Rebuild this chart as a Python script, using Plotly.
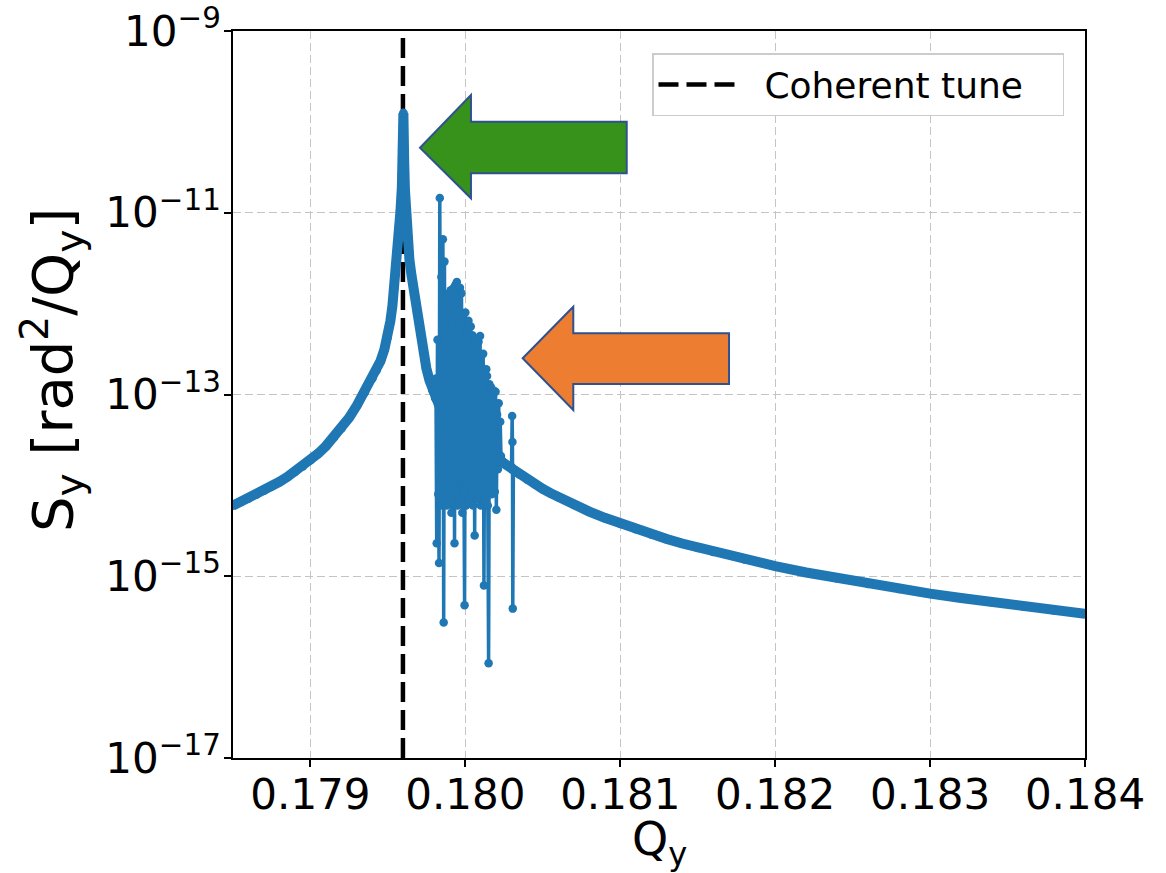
import plotly.graph_objects as go

# ---------------- data ----------------
coherent_tune = 0.179597

# smooth spectrum
q_smooth = [0.1785, 0.17855, 0.1786, 0.17865, 0.1787, 0.17875, 0.1788, 0.17885, 0.1789,
            0.17895, 0.1790, 0.17905, 0.1791, 0.17915, 0.1792, 0.17925, 0.1793, 0.17935,
            0.1794, 0.179426, 0.179452, 0.179477, 0.179497, 0.179516, 0.179529, 0.179542,
            0.179555, 0.179568, 0.179581, 0.17959, 0.179595, 0.1796,
            0.179605, 0.17961, 0.179616, 0.179626, 0.179639, 0.179652, 0.179671, 0.17969,
            0.17971, 0.179729, 0.179748, 0.179768, 0.179787, 0.179806, 0.179832, 0.179865,
            0.179897, 0.179961, 0.180026, 0.18009, 0.180155, 0.1802, 0.18025, 0.1803,
            0.18035, 0.1804, 0.18045, 0.1805, 0.18055, 0.1806, 0.1807, 0.1808, 0.1809,
            0.1810, 0.1811, 0.1812, 0.1813, 0.1814, 0.1815, 0.1816, 0.1818, 0.1820,
            0.1822, 0.1824, 0.1826, 0.1828, 0.1830, 0.1832, 0.1834, 0.1836, 0.1838, 0.1840]
s_smooth = [6.0e-15, 6.57e-15, 7.19e-15, 7.92e-15, 8.76e-15, 9.76e-15, 1.094e-14, 1.237e-14, 1.41e-14,
            1.624e-14, 1.894e-14, 2.24e-14, 2.71e-14, 3.35e-14, 4.25e-14, 5.56e-14, 7.6e-14, 1.06e-13,
            1.52e-13, 1.85e-13, 2.33e-13, 3.13e-13, 4.24e-13, 6.44e-13, 9.42e-13, 1.52e-12,
            2.80e-12, 5.41e-12, 1.04e-11, 1.92e-11, 3.52e-11, 1.25e-10,
            3.80e-11, 1.78e-11, 9.44e-12, 5.01e-12, 3.02e-12, 2.06e-12, 1.24e-12, 7.67e-13,
            4.74e-13, 2.93e-13, 1.95e-13, 1.44e-13, 1.12e-13, 9.14e-14, 7.46e-14, 6.10e-14,
            5.17e-14, 3.91e-14, 3.11e-14, 2.61e-14, 2.24e-14, 2.05e-14, 1.75e-14, 1.51e-14,
            1.32e-14, 1.157e-14, 1.025e-14, 9.15e-15, 8.21e-15, 7.42e-15, 6.13e-15, 5.15e-15, 4.39e-15,
            3.79e-15, 3.30e-15, 2.90e-15, 2.57e-15, 2.29e-15, 2.06e-15, 1.86e-15, 1.54e-15, 1.29e-15,
            1.10e-15, 9.49e-16, 8.27e-16, 7.27e-16, 6.44e-16, 5.75e-16, 5.16e-16, 4.66e-16, 4.22e-16,
            3.85e-16]

# noisy incoherent part
q_noise_start = 0.17981
q_noise_step = 0.000005
s_noise = [1.5e-13, 2.3e-15, 4e-13, 8e-15, 1.4e-15, 1.45e-11, 6e-15, 1.96e-12, 1.2e-14, 5.1e-12,
           3.1e-16, 2.9e-12, 9e-15, 1.24e-12, 6e-15, 9e-13, 1.1e-14, 1.3e-12, 7e-15, 1.4e-12,
           5e-15, 6e-13, 1e-14, 1.5e-12, 2.3e-15, 1.6e-12, 8e-15, 1.73e-12, 6e-15, 1.0e-12,
           1.2e-14, 1.5e-12, 7e-15, 1.3e-12, 5e-15, 7e-13, 9e-15, 4.8e-16, 8e-13, 6e-15,
           5e-13, 1.1e-14, 6.5e-13, 7e-15, 3e-13, 5.6e-13, 8e-15, 4.5e-13, 6e-15, 3.5e-13,
           2.8e-15, 4e-13, 1e-14, 2.5e-13, 7e-15, 3.8e-13, 9e-15, 4.4e-13, 6e-15, 2e-13,
           1.2e-14, 2.8e-13, 7.9e-16, 1.5e-13, 8e-15, 1.9e-13, 1.6e-13, 6e-15, 1.1e-16, 1.3e-13,
           1e-14, 1.2e-13, 8e-15, 9e-14, 1.2e-14, 1.1e-13, 8.5e-15, 1.07e-13, 5.4e-15, 6e-14,
           1.5e-14, 8e-14, 2e-14, 5e-14, 2.1e-14]
q_noise = [round(q_noise_start + i * q_noise_step, 7) for i in range(len(s_noise))]

# isolated spike
q_spike = [0.180298, 0.180302, 0.180304, 0.180306, 0.18031]
s_spike = [1.6e-14, 5.8e-14, 3.0e-14, 4.4e-16, 1.5e-14]

x_range = [0.1785, 0.184]
y_range_exp = [-17.0005, -8.9995]
y_tick_exp = [-17, -15, -13, -11, -9]
x_ticks = [0.179, 0.180, 0.181, 0.182, 0.183, 0.184]

# ---------------- figure ----------------
BLUE = "#1f77b4"
FONT = "DejaVu Sans"
FIG_W, FIG_H = 1166, 873
# plot area in pixels
L, R, T, B = 233, 1085, 31, 758

fig = go.Figure()

fig.add_trace(go.Scatter(
    x=[coherent_tune, coherent_tune], y=[1e-17, 1e-9],
    mode="lines", name="\u00a0\u00a0Coherent tune\u00a0\u00a0\u00a0",
    line=dict(color="black", width=4.5, dash="20px,8px"),
    showlegend=True, cliponaxis=False))

fig.add_trace(go.Scatter(
    x=q_smooth, y=s_smooth, mode="lines+markers",
    line=dict(color=BLUE, width=10), marker=dict(color=BLUE, size=9),
    showlegend=False))

fig.add_trace(go.Scatter(
    x=q_noise + q_spike, y=s_noise + s_spike, mode="lines+markers",
    line=dict(color=BLUE, width=3.5), marker=dict(color=BLUE, size=8.5),
    showlegend=False))


# arrows (paper coordinates)
def poly(pts):
    return "M " + " L ".join(f"{x:.4f},{y:.4f}" for x, y in pts) + " Z"


def px(xp, yp):
    return ((xp - L) / (R - L), (B - yp) / (B - T))


green_pts = [px(420, 147.7), px(471, 95), px(471, 121.7), px(626.7, 121.7),
             px(626.7, 173.3), px(471, 173.3), px(471, 198.3)]
orange_pts = [px(522.7, 358.3), px(573.3, 306.7), px(573.3, 333.3), px(729, 333.3),
              px(729, 384), px(573.3, 384), px(573.3, 410)]

fig.add_shape(type="path", path=poly(green_pts), xref="paper", yref="paper",
              fillcolor="#36921B", line=dict(color="#2F528F", width=2), layer="above")
fig.add_shape(type="path", path=poly(orange_pts), xref="paper", yref="paper",
              fillcolor="#ED7D31", line=dict(color="#2F528F", width=2), layer="above")

grid = dict(showgrid=True, gridcolor="#c4c4c4", gridwidth=1.2, griddash="8px,4px")

fig.update_xaxes(
    range=x_range, tickvals=x_ticks, ticktext=[f"{v:.3f}" for v in x_ticks],
    showline=True, linecolor="black", linewidth=1.5, mirror=True,
    ticks="outside", ticklen=7, tickwidth=1.5, tickcolor="black",
    ticklabelstandoff=-8,
    tickfont=dict(family=FONT, size=42, color="black"),
    zeroline=False, **grid)

fig.update_yaxes(
    type="log", range=y_range_exp,
    tickvals=[10.0 ** e for e in y_tick_exp],
    ticktext=[f"10<sup>\u2212{-e}</sup>" for e in y_tick_exp],
    ticklabeloverflow="allow", ticklabelstandoff=-5,
    showline=True, linecolor="black", linewidth=1.5, mirror=True,
    ticks="outside", ticklen=7, tickwidth=1.5, tickcolor="black",
    tickfont=dict(family=FONT, size=42, color="black"),
    zeroline=False, **grid)

# axis titles placed as annotations at the reference positions
fig.add_annotation(text="Q<sub>y</sub>", xref="paper", yref="paper",
                   x=(659 - L) / (R - L), y=(B - 843) / (B - T),
                   xanchor="center", yanchor="middle", showarrow=False,
                   font=dict(family=FONT, size=46, color="black"))
fig.add_annotation(text="S<sub>y</sub> [rad<sup>2</sup>/Q<sub>y</sub>]", xref="paper", yref="paper",
                   x=(52 - L) / (R - L), y=(B - 370) / (B - T), textangle=-90,
                   xanchor="center", yanchor="middle", showarrow=False,
                   font=dict(family=FONT, size=56, color="black"))

fig.update_layout(
    width=FIG_W, height=FIG_H,
    margin=dict(l=L, r=FIG_W - R, t=T, b=FIG_H - B, autoexpand=False),
    paper_bgcolor="white", plot_bgcolor="white",
    font=dict(family=FONT, color="black"),
    legend=dict(x=(1064 - L) / (R - L), y=(B - 53) / (B - T), xanchor="right", yanchor="top",
                bgcolor="white", bordercolor="#cccccc", borderwidth=1.5,
                font=dict(family=FONT, size=36, color="black"), itemwidth=78),
)

fig.write_html("out.html", config={"displayModeBar": False},
               post_script="document.body.style.margin='0';document.body.style.overflow='hidden';")
